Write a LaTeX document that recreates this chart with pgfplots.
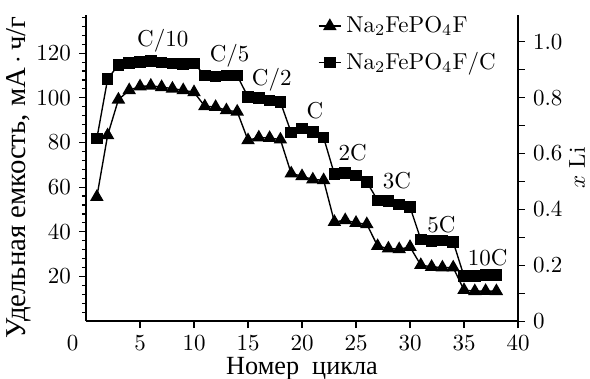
\documentclass[border=0pt]{standalone}
\usepackage{fontspec}
\newfontfamily\cyr{Liberation Serif}
\usepackage{pgfplots}
\pgfplotsset{compat=1.18}
\pgfplotstableread{
x y
1 55.6
2 83.2
3 99.2
4 103.4
5 105.1
6 105.4
7 104.8
8 104.1
9 103.4
10 102.5
11 96.2
12 95.9
13 94.4
14 93.8
15 81.0
16 82.2
17 82.0
18 81.3
19 66.1
20 64.9
21 63.4
22 63.1
23 44.4
24 45.2
25 44.0
26 43.4
27 33.6
28 32.5
29 32.2
30 33.2
31 25.1
32 24.3
33 24.0
34 24.0
35 13.9
36 13.4
37 13.5
38 13.4
}\tri
\pgfplotstableread{
x y
1 81.7
2 108.4
3 114.8
4 115.7
5 116.0
6 116.5
7 115.9
8 115.3
9 115.1
10 115.3
11 110.1
12 109.6
13 109.9
14 109.9
15 100.4
16 99.9
17 98.9
18 98.1
19 84.4
20 86.2
21 84.7
22 82.2
23 65.8
24 66.4
25 65.3
26 62.3
27 54.1
28 53.8
29 52.2
30 51.1
31 36.6
32 35.9
33 36.2
34 35.5
35 20.1
36 20.1
37 20.6
38 20.6
}\sq
\begin{document}
\begin{tikzpicture}
\begin{axis}[
  scale only axis, width=187.8pt, height=133pt,
  xmin=0, xmax=40, ymin=0, ymax=137,
  axis x line*=bottom, axis y line*=left,
  axis line style={line width=0.6pt},
  tick align=outside,
  every tick/.style={black, line width=0.5pt},
  major tick length=3pt, minor tick length=1.8pt,
  xtick={5,10,...,40},
  extra x ticks={0}, extra x tick labels={$0$},
  extra x tick style={tick style={draw=none}, tick label style={xshift=-5.8pt}},
  ytick={20,40,...,120},
  minor ytick={4,8,...,136},
  xlabel={\cyr\fontsize{11.4}{13}\selectfont Номер\ \ цикла},
  xlabel style={at={(axis description cs:0.5,0)}, anchor=base, inner sep=0pt, yshift=-23.3pt},
  ylabel={\cyr\fontsize{12.5}{14}\selectfont Удельная емкость, мА\,$\cdot$\,ч/г},
  ylabel style={at={(axis description cs:-0.141,0.47)}, anchor=base, inner sep=0pt},
  clip=false,
  legend style={at={(rel axis cs:0.536,1.013)}, anchor=north west, draw=none, fill=none,
    cells={anchor=west}, inner sep=0pt, row sep=3pt},
  legend image code/.code={\draw[mark repeat=2,mark phase=2] plot coordinates {(0cm,0cm) (0.17cm,0cm) (0.34cm,0cm)};},
]
\addplot[black, line width=0.6pt, mark=triangle*, mark size=2.8pt, mark options={solid}] table {\tri};
\addlegendentry{Na$_2$FePO$_4$F}
\addplot[black, line width=0.6pt, mark=square*, mark size=2.2pt, mark options={solid}] table {\sq};
\addlegendentry{Na$_2$FePO$_4$F/C}
\node at (axis cs:7.1,125.7) {C/10};
\node at (axis cs:13.3,119) {C/5};
\node at (axis cs:17.2,108.3) {C/2};
\node at (axis cs:21.2,94.4) {C};
\node at (axis cs:24.7,75.3) {2C};
\node at (axis cs:28.8,62.8) {3C};
\node at (axis cs:32.9,43) {5C};
\node at (axis cs:37.2,28.5) {10C};
\end{axis}
\begin{axis}[
  scale only axis, width=187.8pt, height=133pt,
  xmin=0, xmax=40, ymin=0, ymax=1.095,
  axis x line=none, axis y line*=right,
  axis line style={line width=0.6pt},
  tick align=outside,
  every tick/.style={black, line width=0.5pt},
  major tick length=3pt, minor tick length=3pt,
  ytick={0,0.2,0.4,0.6,0.8,1},
  yticklabels={$0$,$0.2$,$0.4$,$0.6$,$0.8$,$1.0$},
  minor ytick={0.1,0.3,0.5,0.7,0.9},
  ylabel={$x$~Li},
  ylabel style={at={(axis description cs:1.155,0.5)}, anchor=base},
]
\end{axis}
\pgfresetboundingbox
\useasboundingbox (-37.4pt,-24.8pt) rectangle (219.1pt,139.6pt);
\end{tikzpicture}
\end{document}
